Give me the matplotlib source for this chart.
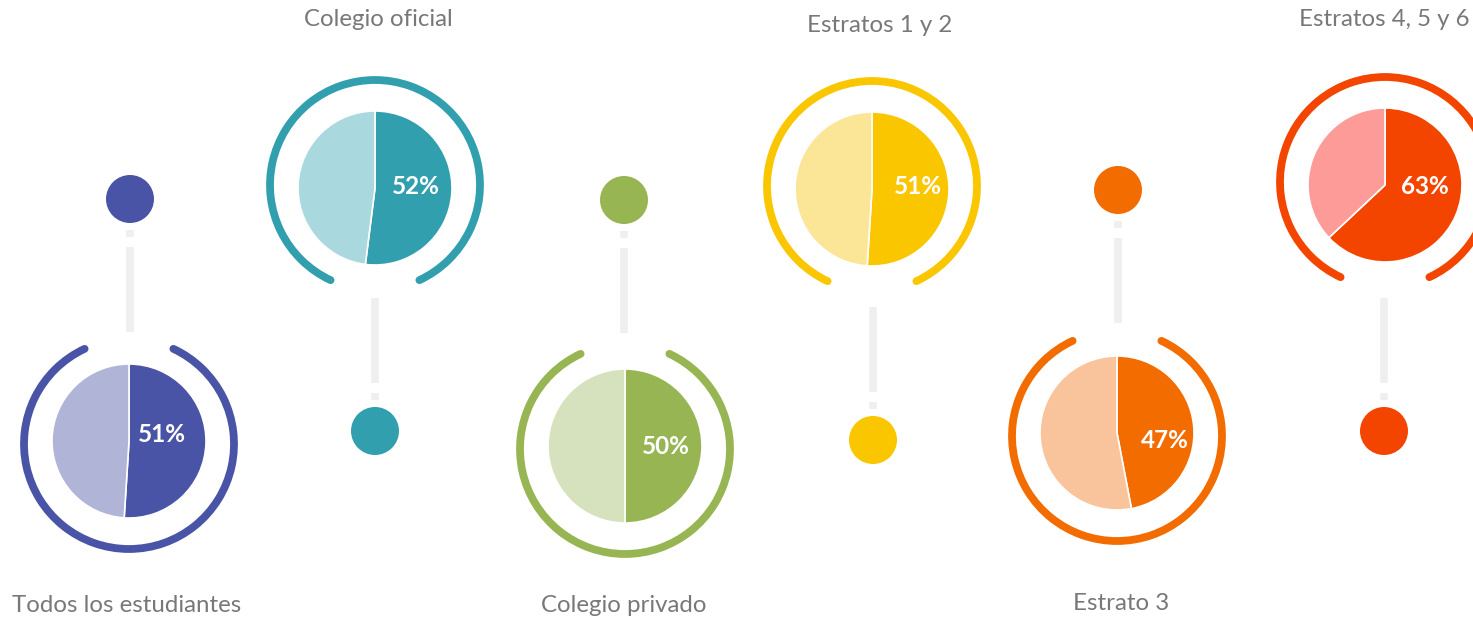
import matplotlib
matplotlib.use("Agg")
import matplotlib.pyplot as plt
from matplotlib.patches import Arc, Circle

# ---- data ----
categories = ["Todos los estudiantes", "Colegio oficial", "Colegio privado",
              "Estratos 1 y 2", "Estrato 3", "Estratos 4, 5 y 6"]
values = [51, 52, 50, 51, 47, 63]
dark_colors = ["#4a54a6", "#319fad", "#97b552", "#f9c600", "#f36c00", "#f44500"]
light_colors = ["#b0b4d7", "#a9d8de", "#d5e2bd", "#fbe597", "#f9c39b", "#fd9b99"]

# ---- layout (pixels, measured from the top-left corner) ----
W, H = 1473, 621
center_x = [129, 375, 625, 872, 1117, 1385]
pie_y = [441, 188, 446, 189, 433, 185]
dot_x = [130, 375, 624, 873, 1118, 1384]
dot_y = [199, 431, 200, 440, 190, 431]
is_low = [True, False, True, False, True, False]
label_y = [606, 19, 606, 25, 604, 20]
label_x = [127, 378, 624, 880, 1121, 1384]
pct_dx = [33, 41, 41, 46, 48, 40]
pct_dy = [-7, -2, 0, -3, 8, 2]

PIE_R = 77
RING_R = 105
RING_SHIFT = 3
GAP_HALF = 25
DOT_R = 24
LINE_GRAY = "#efefef"
TEXT_GRAY = "#787878"
FONT = ["Lato", "DejaVu Sans"]


def Y(y):
    """Convert a top-down pixel row to the y-up data coordinate."""
    return H - y


fig = plt.figure(figsize=(W / 100, H / 100), dpi=100)
ax = fig.add_axes([0, 0, 1, 1])

for i, cat in enumerate(categories):
    cx, cy = center_x[i], pie_y[i]
    v = values[i]

    # pie: highlighted share clockwise from twelve o'clock
    ax.pie([v, 100 - v], colors=[dark_colors[i], light_colors[i]],
           startangle=90, counterclock=False, center=(cx, Y(cy)),
           radius=PIE_R, wedgeprops=dict(linewidth=1.2, edgecolor="white"))

    # ring around the pie with an opening toward the connector
    if is_low[i]:
        gap_center = 90
        ring_cy = cy + RING_SHIFT
    else:
        gap_center = 270
        ring_cy = cy - RING_SHIFT
    ring = Arc((cx, Y(ring_cy)), 2 * RING_R, 2 * RING_R,
               theta1=gap_center + GAP_HALF,
               theta2=gap_center - GAP_HALF + 360,
               color=dark_colors[i], linewidth=5.6, capstyle="round",
               zorder=3)
    ax.add_patch(ring)

    # marker dot
    ax.add_patch(Circle((dot_x[i], Y(dot_y[i])), DOT_R,
                        color=dark_colors[i], zorder=3, linewidth=0))

    # light connector: short dash then long dash, from the dot toward the ring
    s = 1 if is_low[i] else -1
    dy0 = dot_y[i]
    for a, b in [(31, 38), (48, 133)]:
        ax.plot([dot_x[i], dot_x[i]], [Y(dy0 + s * a), Y(dy0 + s * b)],
                color=LINE_GRAY, linewidth=5.4, solid_capstyle="butt",
                zorder=1)

    # percentage inside the highlighted wedge
    ax.text(cx + pct_dx[i], Y(cy + pct_dy[i]), f"{v}%", color="white",
            fontsize=17.5, fontweight="bold", family=FONT,
            ha="center", va="center", zorder=4)

    # category label
    ax.text(label_x[i], Y(label_y[i]), cat, color=TEXT_GRAY, fontsize=17.3,
            family=FONT, ha="center", va="center")

ax.set_xlim(0, W)
ax.set_ylim(0, H)
ax.set_aspect("auto")
ax.axis("off")

fig.savefig("out.png", dpi=100, facecolor="white")
